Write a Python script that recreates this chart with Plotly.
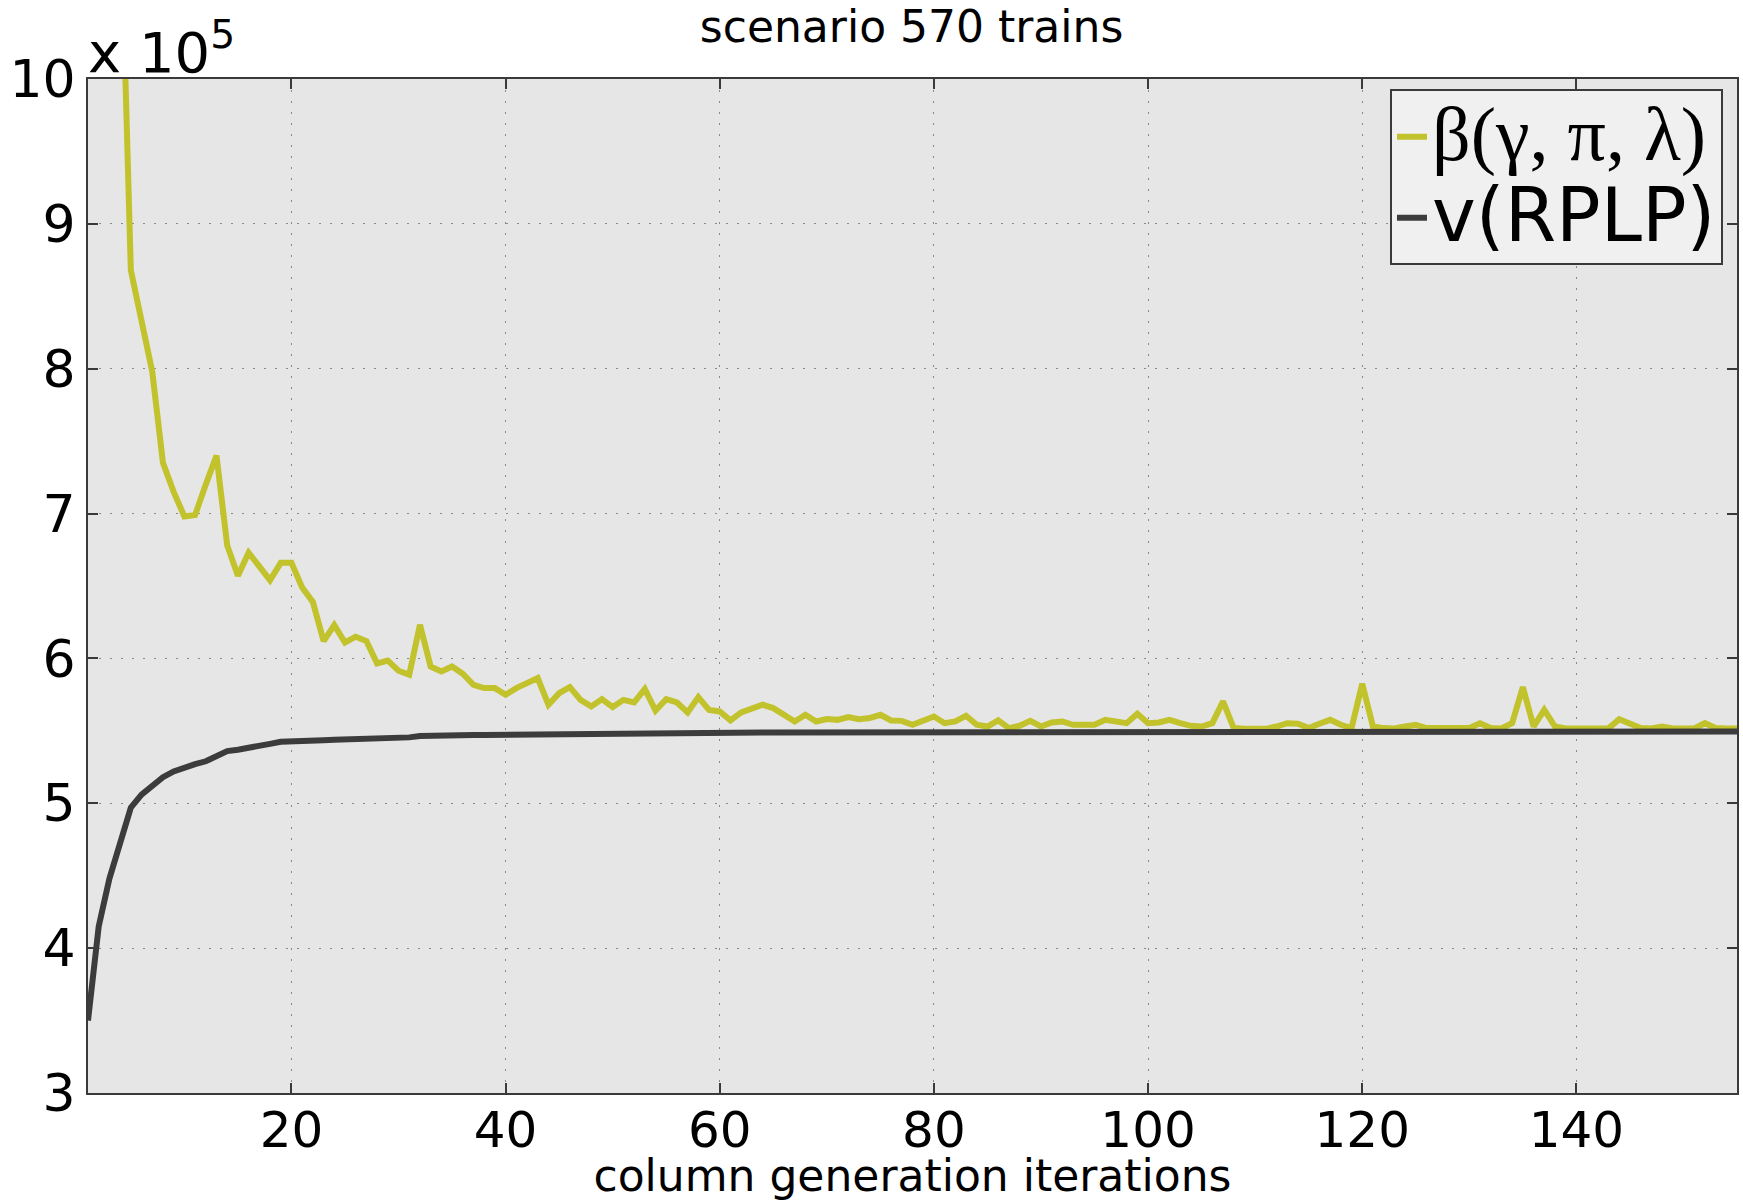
import plotly.graph_objects as go

# column generation iterations
iterations = list(range(1, 156))

# values in units of 1e5
beta_vals = [
    15.0, 13.2, 12.0, 11.3, 8.68, 8.33, 7.98, 7.35, 7.15, 6.98,
    6.99, 7.20, 7.40, 6.78, 6.57, 6.73, 6.64, 6.54, 6.66, 6.66,
    6.49, 6.39, 6.12, 6.23, 6.11, 6.15, 6.12, 5.965, 5.985, 5.915,
    5.887, 6.232, 5.944, 5.91, 5.944, 5.894, 5.818, 5.795, 5.795, 5.749,
    5.795, 5.834, 5.864, 5.68, 5.76, 5.802, 5.714, 5.668, 5.719, 5.664,
    5.714, 5.696, 5.788, 5.64, 5.719, 5.696, 5.627, 5.733, 5.645, 5.634,
    5.572, 5.627, 5.657, 5.68, 5.657, 5.615, 5.565, 5.611, 5.565, 5.581,
    5.576, 5.595, 5.581, 5.588, 5.611, 5.572, 5.569, 5.542, 5.576, 5.599,
    5.553, 5.565, 5.604, 5.542, 5.53, 5.572, 5.519, 5.535, 5.569, 5.53,
    5.558, 5.565, 5.542, 5.542, 5.542, 5.576, 5.565, 5.553, 5.618, 5.553,
    5.558, 5.576, 5.553, 5.535, 5.53, 5.553, 5.703, 5.519, 5.514, 5.514,
    5.514, 5.53, 5.553, 5.549, 5.519, 5.549, 5.576, 5.542, 5.519, 5.825,
    5.53, 5.519, 5.517, 5.53, 5.542, 5.519, 5.517, 5.516, 5.517, 5.519,
    5.553, 5.519, 5.517, 5.553, 5.802, 5.53, 5.645, 5.53, 5.517, 5.516,
    5.517, 5.516, 5.517, 5.581, 5.553, 5.519, 5.517, 5.53, 5.517, 5.516,
    5.517, 5.553, 5.519, 5.517, 5.516,
]

rplp_vals = [
    3.50, 4.15, 4.48, 4.72, 4.97, 5.06, 5.12, 5.18, 5.22, 5.25,
    5.27, 5.29, 5.33, 5.36, 5.37, 5.38, 5.39, 5.41, 5.425, 5.43,
    5.432, 5.434, 5.436, 5.438, 5.44, 5.442, 5.444, 5.446, 5.448, 5.45,
    5.455, 5.465, 5.468, 5.469, 5.47, 5.47, 5.471, 5.471, 5.472, 5.472,
    5.473, 5.473, 5.474, 5.475, 5.478, 5.479, 5.479, 5.48, 5.48, 5.481,
    5.481, 5.482, 5.482, 5.483, 5.483, 5.484, 5.484, 5.485, 5.485, 5.487,
    5.487, 5.487, 5.487, 5.488, 5.488, 5.488, 5.488, 5.488, 5.488, 5.488,
    5.488, 5.488, 5.489, 5.489, 5.489, 5.489, 5.489, 5.489, 5.489, 5.489,
    5.49, 5.49, 5.49, 5.49, 5.49, 5.49, 5.49, 5.49, 5.49, 5.49,
    5.491, 5.491, 5.491, 5.491, 5.491, 5.491, 5.491, 5.491, 5.491, 5.491,
    5.492, 5.492, 5.492, 5.492, 5.492, 5.492, 5.492, 5.492, 5.492, 5.492,
    5.493, 5.493, 5.493, 5.493, 5.493, 5.493, 5.493, 5.493, 5.493, 5.493,
    5.494, 5.494, 5.494, 5.494, 5.494, 5.494, 5.494, 5.494, 5.494, 5.494,
    5.494, 5.494, 5.494, 5.494, 5.494, 5.495, 5.495, 5.495, 5.495, 5.495,
    5.495, 5.495, 5.495, 5.495, 5.495, 5.495, 5.495, 5.495, 5.495, 5.495,
    5.495, 5.495, 5.495, 5.495, 5.495,
]

x_ticks = [20, 40, 60, 80, 100, 120, 140]
y_ticks = [3, 4, 5, 6, 7, 8, 9, 10]

title_text = "scenario 570 trains"
x_title = "column generation iterations"
beta_name = '<span style="font-family:Liberation Serif;font-size:76px">β(γ, π, λ)</span>'
rplp_name = '<span style="font-size:74px">v(RPLP)</span>'

YELLOW = "#c2c22c"
DARK = "#3c3c3c"
AXIS = "#3a3a3a"
FONT = "DejaVu Sans"

fig = go.Figure()
fig.add_trace(go.Scatter(x=iterations, y=beta_vals, mode="lines", name=beta_name,
                         line=dict(color=YELLOW, width=6)))
fig.add_trace(go.Scatter(x=iterations, y=rplp_vals, mode="lines", name=rplp_name,
                         line=dict(color=DARK, width=6)))

axis_common = dict(
    showline=True, linecolor=AXIS, linewidth=2, mirror="ticks",
    ticks="inside", ticklen=10, tickwidth=2, tickcolor=AXIS,
    showgrid=True, gridcolor="#8a8a8a", gridwidth=1, griddash="2px,9px",
    zeroline=False, automargin=False,
)

fig.update_xaxes(range=[1, 155], tickvals=x_ticks, ticktext=[str(v) for v in x_ticks],
                 tickfont=dict(family=FONT, size=50, color="black"), ticklabelstandoff=-8,
                 title=dict(text=x_title, font=dict(family=FONT, size=44, color="black"), standoff=10),
                 **axis_common)
fig.update_yaxes(range=[3, 10], tickvals=y_ticks, ticktext=[str(v) for v in y_ticks],
                 tickfont=dict(family=FONT, size=52, color="black"),
                 **axis_common)

fig.update_layout(
    width=1743, height=1201,
    margin=dict(l=88, r=6, t=79, b=108),
    paper_bgcolor="white", plot_bgcolor="#e6e6e6",
    title=dict(text=title_text, font=dict(family=FONT, size=44, color="black"),
               x=0.523, xanchor="center", y=0.9775, yanchor="middle"),
    legend=dict(x=0.9915, xanchor="right", y=0.99, yanchor="top",
                bgcolor="#f0f0f0", bordercolor=AXIS, borderwidth=2,
                font=dict(family=FONT, size=60, color="black"),
                tracegroupgap=0),
    showlegend=True,
    annotations=[dict(text="x 10<sup>5</sup>", xref="paper", yref="paper", x=0, y=1,
                      xanchor="left", yanchor="bottom", showarrow=False, xshift=-2, yshift=-8,
                      font=dict(family=FONT, size=56, color="black"))],
)

fig.write_html("out.html")
